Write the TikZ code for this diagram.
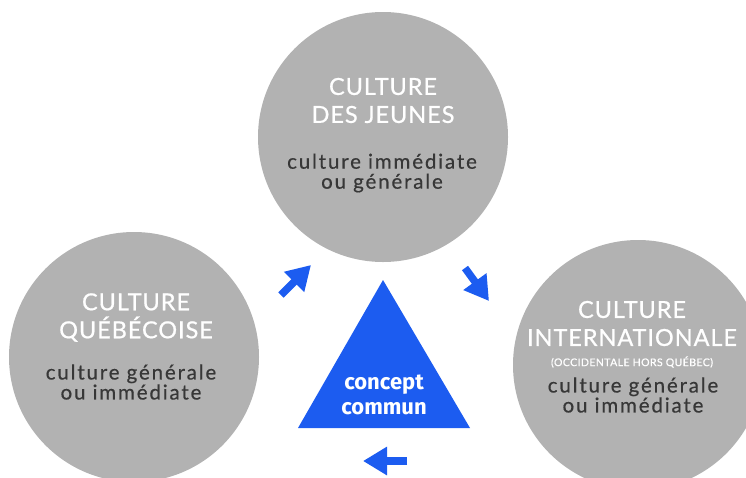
\documentclass[tikz,border=0pt]{standalone}
\usepackage{fontspec}
\setmainfont{Lato}
\newfontfamily\fonttitre[LetterSpace=4,FakeBold=0.7]{Lato}
\newfontfamily\fonttexte[LetterSpace=9,FakeBold=0.5]{Lato}
\newfontfamily\fontconcept{Fira Sans}
\newcommand\serre{\lineskiplimit=-20pt\relax}
\usetikzlibrary{arrows.meta}
\definecolor{grisc}{RGB}{178,178,178}
\definecolor{grist}{RGB}{55,55,55}
\definecolor{bleu}{RGB}{28,92,240}
\tikzset{cercle/.style={circle,fill=grisc,inner sep=0,minimum size=250pt},
  titre/.style={text=white,align=center,inner sep=0,font={\fonttitre\fontsize{23.5}{28}\selectfont\serre}},
  soustitre/.style={text=white,inner sep=0,font=\fonttitre\fontsize{10.5}{12}\selectfont},
  texte/.style={text=grist,align=center,inner sep=0,font={\fonttexte\fontsize{20.5}{20}\selectfont\serre}},
  fleche/.style={bleu,line width=7.5pt,-{Triangle[length=24pt,width=27pt]}}
}

\begin{document}
\begin{tikzpicture}[x=1pt,y=-1pt]
\useasboundingbox (0,0) rectangle (746,477);
\clip (0,0) rectangle (746,477);
% les trois cultures
\node[cercle] (jeunes) at (383,137) {};
\node[cercle] (quebec) at (134,357) {};
\node[cercle] (inter) at (638,365) {};
\node[titre] (jeunesT) at (383,100.5) {CULTURE\\DES JEUNES};
\node[texte] (jeunesC) at (382,173) {culture immédiate\\ou générale};
\node[titre] (quebecT) at (136,317.5) {CULTURE\\QUÉBÉCOISE};
\node[texte] (quebecC) at (131,382) {culture générale\\ou immédiate};
\node[titre] (interT) at (632,323.5) {CULTURE\\INTERNATIONALE};
\node[soustitre] (interS) at (632,362) {(OCCIDENTALE HORS QUÉBEC)};
\node[texte] (interC) at (633,395) {culture générale\\ou immédiate};
% triangle central
\coordinate (s1) at (383,280);
\coordinate (s2) at (298,428);
\coordinate (s3) at (470,428);
\fill[bleu] (s1) -- (s2) -- (s3) -- cycle;
\node[text=white,align=center,inner sep=0,font=\fontconcept\bfseries\fontsize{22}{25}\selectfont] (commun) at (384,394.5) {concept\\commun};
% fleches
\coordinate (a1) at (281,295);
\coordinate (b1) at (311,265);
\coordinate (a2) at (465,268);
\coordinate (b2) at (489,301);
\coordinate (a3) at (407,461);
\coordinate (b3) at (363,461);
\draw[fleche] (a1) -- (b1);
\draw[fleche] (a2) -- (b2);
\draw[fleche] (a3) -- (b3);
\end{tikzpicture}
\end{document}
